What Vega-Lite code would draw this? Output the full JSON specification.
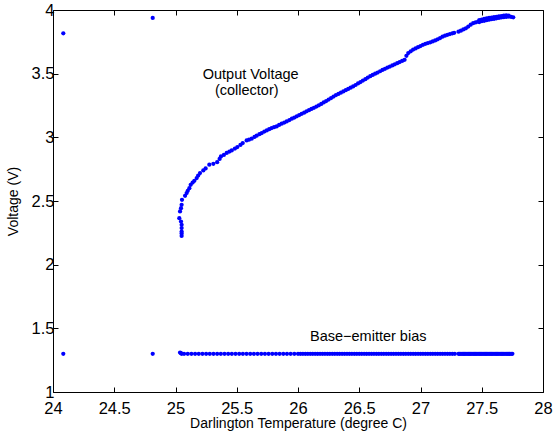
{
  "$schema": "https://vega.github.io/schema/vega-lite/v6.json",
  "width": 490,
  "height": 382,
  "autosize": {"type": "none"},
  "padding": {"left": 53, "top": 10, "right": 12, "bottom": 42},
  "background": "white",
  "config": {
    "font": "Liberation Sans",
    "view": {"stroke": null},
    "axis": {
      "grid": false,
      "domainColor": "black",
      "domainWidth": 1,
      "tickColor": "black",
      "tickWidth": 1,
      "labelColor": "black",
      "titleColor": "black",
      "labelFont": "Liberation Sans",
      "titleFont": "Liberation Sans",
      "labelFontSize": 16.5,
      "titleFontSize": 14,
      "titleFontWeight": "normal",
      "labelFlush": false,
      "labelOverlap": false
    }
  },
  "datasets": {
    "pts": [
      {"t": 24.084, "v": 3.817}, {"t": 24.814, "v": 3.938},
      {"t": 24.084, "v": 1.30}, {"t": 24.814, "v": 1.30},
      {"t": 25.050, "v": 2.226}, {"t": 25.050, "v": 2.245}, {"t": 25.050, "v": 2.260}, {"t": 25.050, "v": 2.287},
      {"t": 25.050, "v": 2.313}, {"t": 25.045, "v": 2.339}, {"t": 25.031, "v": 2.365}, {"t": 25.037, "v": 2.418},
      {"t": 25.045, "v": 2.444}, {"t": 25.050, "v": 2.470}, {"t": 25.053, "v": 2.509}, {"t": 25.078, "v": 2.541},
      {"t": 25.091, "v": 2.562}, {"t": 25.100, "v": 2.580}, {"t": 25.113, "v": 2.601}, {"t": 25.124, "v": 2.627},
      {"t": 25.140, "v": 2.645}, {"t": 25.154, "v": 2.659}, {"t": 25.173, "v": 2.680}, {"t": 25.185, "v": 2.700},
      {"t": 25.200, "v": 2.719}, {"t": 25.227, "v": 2.740}, {"t": 25.246, "v": 2.756}, {"t": 25.276, "v": 2.785},
      {"t": 25.309, "v": 2.792}, {"t": 25.340, "v": 2.805}, {"t": 25.360, "v": 2.830}, {"t": 25.371, "v": 2.850},
      {"t": 25.395, "v": 2.862}, {"t": 25.418, "v": 2.877}, {"t": 25.440, "v": 2.888}, {"t": 25.459, "v": 2.897},
      {"t": 25.485, "v": 2.912}, {"t": 25.505, "v": 2.924}, {"t": 25.530, "v": 2.940}, {"t": 25.549, "v": 2.955},
      {"t": 25.581, "v": 2.976}, {"t": 25.600, "v": 2.982}, {"t": 25.622, "v": 2.989}, {"t": 25.645, "v": 3.003},
      {"t": 25.663, "v": 3.013}, {"t": 25.685, "v": 3.025}, {"t": 25.704, "v": 3.034}, {"t": 25.725, "v": 3.045},
      {"t": 25.745, "v": 3.054}, {"t": 25.765, "v": 3.064}, {"t": 25.785, "v": 3.073}, {"t": 25.805, "v": 3.080},
      {"t": 25.826, "v": 3.086}, {"t": 25.846, "v": 3.097}, {"t": 25.867, "v": 3.107}, {"t": 25.888, "v": 3.116},
      {"t": 25.908, "v": 3.125}, {"t": 25.93, "v": 3.136}, {"t": 25.95, "v": 3.146}, {"t": 25.97, "v": 3.155},
      {"t": 25.99, "v": 3.165}, {"t": 26.01, "v": 3.175}, {"t": 26.03, "v": 3.185}, {"t": 26.05, "v": 3.194},
      {"t": 26.07, "v": 3.204}, {"t": 26.09, "v": 3.213}, {"t": 26.11, "v": 3.223}, {"t": 26.13, "v": 3.232},
      {"t": 26.15, "v": 3.242}, {"t": 26.17, "v": 3.251}, {"t": 26.19, "v": 3.262}, {"t": 26.21, "v": 3.274},
      {"t": 26.23, "v": 3.285}, {"t": 26.25, "v": 3.297}, {"t": 26.27, "v": 3.308}, {"t": 26.29, "v": 3.320},
      {"t": 26.31, "v": 3.332}, {"t": 26.33, "v": 3.341}, {"t": 26.35, "v": 3.351}, {"t": 26.37, "v": 3.360},
      {"t": 26.39, "v": 3.370}, {"t": 26.41, "v": 3.380}, {"t": 26.43, "v": 3.390}, {"t": 26.45, "v": 3.400},
      {"t": 26.47, "v": 3.411}, {"t": 26.49, "v": 3.423}, {"t": 26.51, "v": 3.434}, {"t": 26.53, "v": 3.446},
      {"t": 26.55, "v": 3.457}, {"t": 26.57, "v": 3.469}, {"t": 26.59, "v": 3.480}, {"t": 26.61, "v": 3.490},
      {"t": 26.63, "v": 3.500}, {"t": 26.65, "v": 3.509}, {"t": 26.67, "v": 3.519}, {"t": 26.69, "v": 3.529},
      {"t": 26.71, "v": 3.538}, {"t": 26.73, "v": 3.548}, {"t": 26.75, "v": 3.556}, {"t": 26.77, "v": 3.565},
      {"t": 26.79, "v": 3.573}, {"t": 26.81, "v": 3.582}, {"t": 26.83, "v": 3.591}, {"t": 26.85, "v": 3.600},
      {"t": 26.87, "v": 3.609}, {"t": 26.885, "v": 3.640}, {"t": 26.90, "v": 3.662}, {"t": 26.92, "v": 3.676},
      {"t": 26.94, "v": 3.689}, {"t": 26.96, "v": 3.698}, {"t": 26.98, "v": 3.708}, {"t": 27.00, "v": 3.717},
      {"t": 27.02, "v": 3.727}, {"t": 27.04, "v": 3.734}, {"t": 27.06, "v": 3.740}, {"t": 27.08, "v": 3.746},
      {"t": 27.10, "v": 3.753}, {"t": 27.12, "v": 3.761}, {"t": 27.14, "v": 3.770}, {"t": 27.16, "v": 3.780},
      {"t": 27.18, "v": 3.790}, {"t": 27.20, "v": 3.798}, {"t": 27.22, "v": 3.805}, {"t": 27.24, "v": 3.811},
      {"t": 27.26, "v": 3.817}, {"t": 27.275, "v": 3.821},
      {"t": 27.31, "v": 3.830}, {"t": 27.33, "v": 3.838}, {"t": 27.35, "v": 3.847}, {"t": 27.37, "v": 3.856},
      {"t": 27.39, "v": 3.870}, {"t": 27.41, "v": 3.885}, {"t": 27.43, "v": 3.896}, {"t": 27.45, "v": 3.902},
      {"t": 27.47, "v": 3.908}, {"t": 27.48, "v": 3.905}, {"t": 27.48, "v": 3.920}, {"t": 27.50, "v": 3.912},
      {"t": 27.50, "v": 3.925}, {"t": 27.52, "v": 3.915}, {"t": 27.52, "v": 3.930}, {"t": 27.54, "v": 3.920},
      {"t": 27.54, "v": 3.935}, {"t": 27.56, "v": 3.924}, {"t": 27.56, "v": 3.938}, {"t": 27.58, "v": 3.928},
      {"t": 27.58, "v": 3.940}, {"t": 27.60, "v": 3.930}, {"t": 27.60, "v": 3.944}, {"t": 27.62, "v": 3.935},
      {"t": 27.62, "v": 3.946}, {"t": 27.64, "v": 3.938}, {"t": 27.64, "v": 3.950}, {"t": 27.66, "v": 3.942},
      {"t": 27.66, "v": 3.952}, {"t": 27.68, "v": 3.944}, {"t": 27.68, "v": 3.955}, {"t": 27.70, "v": 3.946},
      {"t": 27.70, "v": 3.957}, {"t": 27.72, "v": 3.948}, {"t": 27.72, "v": 3.955}, {"t": 27.74, "v": 3.946},
      {"t": 27.757, "v": 3.943},
      {"t": 25.037, "v": 1.31}, {"t": 25.045, "v": 1.305}, {"t": 25.05, "v": 1.30}, {"t": 25.07, "v": 1.30},
      {"t": 25.10, "v": 1.30}, {"t": 25.13, "v": 1.30}, {"t": 25.16, "v": 1.30}, {"t": 25.19, "v": 1.30},
      {"t": 25.22, "v": 1.30}, {"t": 25.25, "v": 1.30}, {"t": 25.28, "v": 1.30}, {"t": 25.31, "v": 1.30},
      {"t": 25.34, "v": 1.30}, {"t": 25.37, "v": 1.30}, {"t": 25.40, "v": 1.30}, {"t": 25.43, "v": 1.30},
      {"t": 25.46, "v": 1.30}, {"t": 25.49, "v": 1.30}, {"t": 25.52, "v": 1.30}, {"t": 25.55, "v": 1.30},
      {"t": 25.58, "v": 1.30}, {"t": 25.61, "v": 1.30}, {"t": 25.64, "v": 1.30}, {"t": 25.67, "v": 1.30},
      {"t": 25.70, "v": 1.30}, {"t": 25.73, "v": 1.30}, {"t": 25.76, "v": 1.30}, {"t": 25.79, "v": 1.30},
      {"t": 25.82, "v": 1.30}, {"t": 25.85, "v": 1.30}, {"t": 25.88, "v": 1.30}, {"t": 25.91, "v": 1.30},
      {"t": 25.94, "v": 1.30}, {"t": 25.97, "v": 1.30}, {"t": 26.00, "v": 1.30}, {"t": 26.02, "v": 1.30},
      {"t": 26.04, "v": 1.30}, {"t": 26.06, "v": 1.30}, {"t": 26.08, "v": 1.30}, {"t": 26.10, "v": 1.30},
      {"t": 26.12, "v": 1.30}, {"t": 26.14, "v": 1.30}, {"t": 26.16, "v": 1.30}, {"t": 26.18, "v": 1.30},
      {"t": 26.20, "v": 1.30}, {"t": 26.22, "v": 1.30}, {"t": 26.24, "v": 1.30}, {"t": 26.26, "v": 1.30},
      {"t": 26.28, "v": 1.30}, {"t": 26.30, "v": 1.30}, {"t": 26.32, "v": 1.30}, {"t": 26.34, "v": 1.30},
      {"t": 26.36, "v": 1.30}, {"t": 26.38, "v": 1.30}, {"t": 26.40, "v": 1.30}, {"t": 26.42, "v": 1.30},
      {"t": 26.44, "v": 1.30}, {"t": 26.46, "v": 1.30}, {"t": 26.48, "v": 1.30}, {"t": 26.50, "v": 1.30},
      {"t": 26.52, "v": 1.30}, {"t": 26.54, "v": 1.30}, {"t": 26.56, "v": 1.30}, {"t": 26.58, "v": 1.30},
      {"t": 26.60, "v": 1.30}, {"t": 26.62, "v": 1.30}, {"t": 26.64, "v": 1.30}, {"t": 26.66, "v": 1.30},
      {"t": 26.68, "v": 1.30}, {"t": 26.70, "v": 1.30}, {"t": 26.72, "v": 1.30}, {"t": 26.74, "v": 1.30},
      {"t": 26.76, "v": 1.30}, {"t": 26.78, "v": 1.30}, {"t": 26.80, "v": 1.30}, {"t": 26.82, "v": 1.30},
      {"t": 26.84, "v": 1.30}, {"t": 26.86, "v": 1.30}, {"t": 26.88, "v": 1.30}, {"t": 26.90, "v": 1.30},
      {"t": 26.92, "v": 1.30}, {"t": 26.94, "v": 1.30}, {"t": 26.96, "v": 1.30}, {"t": 26.98, "v": 1.30},
      {"t": 27.00, "v": 1.30}, {"t": 27.02, "v": 1.30}, {"t": 27.04, "v": 1.30}, {"t": 27.06, "v": 1.30},
      {"t": 27.08, "v": 1.30}, {"t": 27.10, "v": 1.30}, {"t": 27.12, "v": 1.30}, {"t": 27.14, "v": 1.30},
      {"t": 27.16, "v": 1.30}, {"t": 27.18, "v": 1.30}, {"t": 27.20, "v": 1.30}, {"t": 27.22, "v": 1.30},
      {"t": 27.24, "v": 1.30}, {"t": 27.26, "v": 1.30}, {"t": 27.28, "v": 1.30},
      {"t": 27.31, "v": 1.30}, {"t": 27.32, "v": 1.30}, {"t": 27.33, "v": 1.30}, {"t": 27.34, "v": 1.30},
      {"t": 27.35, "v": 1.30}, {"t": 27.36, "v": 1.30}, {"t": 27.37, "v": 1.30}, {"t": 27.38, "v": 1.30},
      {"t": 27.39, "v": 1.30}, {"t": 27.40, "v": 1.30}, {"t": 27.41, "v": 1.30}, {"t": 27.42, "v": 1.30},
      {"t": 27.43, "v": 1.30}, {"t": 27.44, "v": 1.30}, {"t": 27.45, "v": 1.30}, {"t": 27.46, "v": 1.30},
      {"t": 27.47, "v": 1.30}, {"t": 27.48, "v": 1.30}, {"t": 27.49, "v": 1.30}, {"t": 27.50, "v": 1.30},
      {"t": 27.51, "v": 1.30}, {"t": 27.52, "v": 1.30}, {"t": 27.53, "v": 1.30}, {"t": 27.54, "v": 1.30},
      {"t": 27.55, "v": 1.30}, {"t": 27.56, "v": 1.30}, {"t": 27.57, "v": 1.30}, {"t": 27.58, "v": 1.30},
      {"t": 27.59, "v": 1.30}, {"t": 27.60, "v": 1.30}, {"t": 27.61, "v": 1.30}, {"t": 27.62, "v": 1.30},
      {"t": 27.63, "v": 1.30}, {"t": 27.64, "v": 1.30}, {"t": 27.65, "v": 1.30}, {"t": 27.66, "v": 1.30},
      {"t": 27.67, "v": 1.30}, {"t": 27.68, "v": 1.30}, {"t": 27.69, "v": 1.30}, {"t": 27.70, "v": 1.30},
      {"t": 27.71, "v": 1.30}, {"t": 27.72, "v": 1.30}, {"t": 27.73, "v": 1.30}, {"t": 27.74, "v": 1.30},
      {"t": 27.75, "v": 1.30}
    ],
    "notes": [
      {"t": 25.222, "v": 3.492, "label": "Output Voltage"},
      {"t": 25.322, "v": 3.361, "label": "(collector)"},
      {"t": 26.098, "v": 1.435, "label": "Base−emitter bias"}
    ]
  },
  "layer": [
    {
      "data": {"name": "pts"},
      "mark": {"type": "point", "filled": true, "shape": "circle", "size": 18, "color": "#0000ff", "opacity": 1, "strokeWidth": 0},
      "encoding": {
        "x": {
          "field": "t", "type": "quantitative",
          "scale": {"domain": [24, 28], "nice": false, "zero": false},
          "axis": {
            "orient": "bottom",
            "title": "Darlington Temperature (degree C)",
            "values": [24, 24.5, 25, 25.5, 26, 26.5, 27, 27.5, 28],
            "format": "~g",
            "tickSize": -5,
            "labelPadding": 13,
            "titlePadding": 0
          }
        },
        "y": {
          "field": "v", "type": "quantitative",
          "scale": {"domain": [1, 4], "nice": false, "zero": false},
          "axis": {
            "orient": "left",
            "title": "Voltage (V)",
            "values": [1, 1.5, 2, 2.5, 3, 3.5, 4],
            "format": "~g",
            "tickSize": -5,
            "labelPadding": 4,
            "titlePadding": 11
          }
        }
      }
    },
    {
      "data": {"name": "notes"},
      "mark": {"type": "text", "align": "left", "baseline": "middle", "fontSize": 14.5, "font": "Liberation Sans", "color": "black"},
      "encoding": {
        "x": {
          "field": "t", "type": "quantitative",
          "scale": {"domain": [24, 28], "nice": false, "zero": false},
          "axis": {"orient": "top", "title": null, "labels": false, "values": [24, 24.5, 25, 25.5, 26, 26.5, 27, 27.5, 28], "tickSize": -5}
        },
        "y": {
          "field": "v", "type": "quantitative",
          "scale": {"domain": [1, 4], "nice": false, "zero": false},
          "axis": {"orient": "right", "title": null, "labels": false, "values": [1, 1.5, 2, 2.5, 3, 3.5, 4], "tickSize": -5}
        },
        "text": {"field": "label"}
      }
    }
  ],
  "resolve": {"axis": {"x": "independent", "y": "independent"}}
}
